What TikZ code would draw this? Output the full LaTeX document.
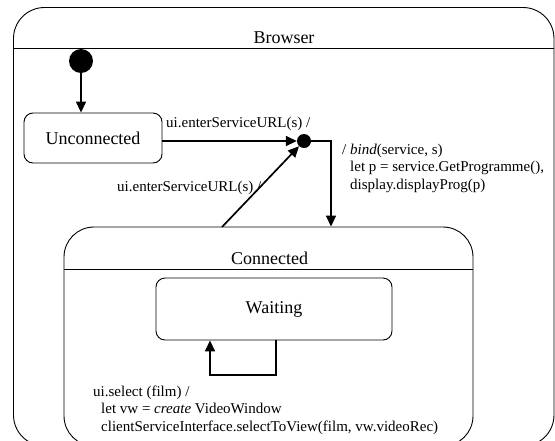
\documentclass[tikz,border=0pt]{standalone}
\usepackage{fontspec}
\setmainfont{Liberation Serif}
\usetikzlibrary{arrows.meta}
\begin{document}
\begin{tikzpicture}[x=1pt,y=-1pt,
  frame/.style={draw, line width=0.9pt},
  flow/.style={line width=1.7pt, -{Triangle[length=11pt,width=10pt]}},
  lbl/.style={font=\fontsize{15}{17.5}\selectfont, inner sep=0pt, align=left},
  nm/.style={font=\fontsize{18}{20}\selectfont, inner sep=0pt},
  dot/.style={circle, fill, inner sep=0pt}]
\useasboundingbox (0,0) rectangle (555,440);
\clip (0,0) rectangle (555,440);
% Browser composite state
\draw[frame, rounded corners=31pt] (13.5,7.5) rectangle (554,446);
\draw[frame] (13.5,48) -- (554,48);
\node[nm, anchor=base] (browser) at (284,43) {Browser};
% initial state
\node[dot, minimum size=24pt] (init) at (81,61) {};
% Unconnected
\node[frame, nm, rounded corners=9pt, minimum width=138pt, minimum height=50pt] (unc) at (93,138) {Unconnected};
% junction
\node[dot, minimum size=14pt] (junc) at (304,141) {};
% Connected composite state
\node[frame, rounded corners=30pt, minimum width=409pt, minimum height=219pt] (conn) at (268.5,336.5) {};
\draw[frame] (conn.west |- 0,269) -- (conn.east |- 0,269);
\node[nm, anchor=base] (conntitle) at (269.5,264) {Connected};
% Waiting
\node[frame, nm, rounded corners=9pt, minimum width=236pt, minimum height=62pt] (wait) at (274,309) {Waiting};
% connectors
\draw[flow] (init.south) -- (init.south |- unc.north);
\draw[flow] (unc.east |- junc.center) -- (junc);
\coordinate (bend) at (331,141);
\draw[flow] (junc.center) -- (bend) -- (bend |- conn.north);
\coordinate (dstart) at (222,227);
\draw[flow] (dstart) -- (junc);
\coordinate (loopa) at (276,340);
\coordinate (loopb) at (276,375);
\coordinate (loopc) at (210,375);
\draw[flow] (loopa) -- (loopb) -- (loopc) -- (loopc |- wait.south);
% labels
\node[lbl, anchor=base west] (l1) at (166,127) {ui.enterServiceURL(s) /};
\node[lbl, anchor=base west] (l2) at (117,191) {ui.enterServiceURL(s) /};
\node[lbl, anchor=base west] (l3) at (342,189) {/ \textit{bind}(service, s)\\\hspace*{8pt}let p = service.GetProgramme(),\\\hspace*{8pt}display.displayProg(p)};
\node[lbl, anchor=base west] (l4) at (93,431) {ui.select (film) /\\\hspace*{8pt}let vw = \textit{create} VideoWindow\\\hspace*{8pt}clientServiceInterface.selectToView(film, vw.videoRec)};
\end{tikzpicture}
\end{document}
